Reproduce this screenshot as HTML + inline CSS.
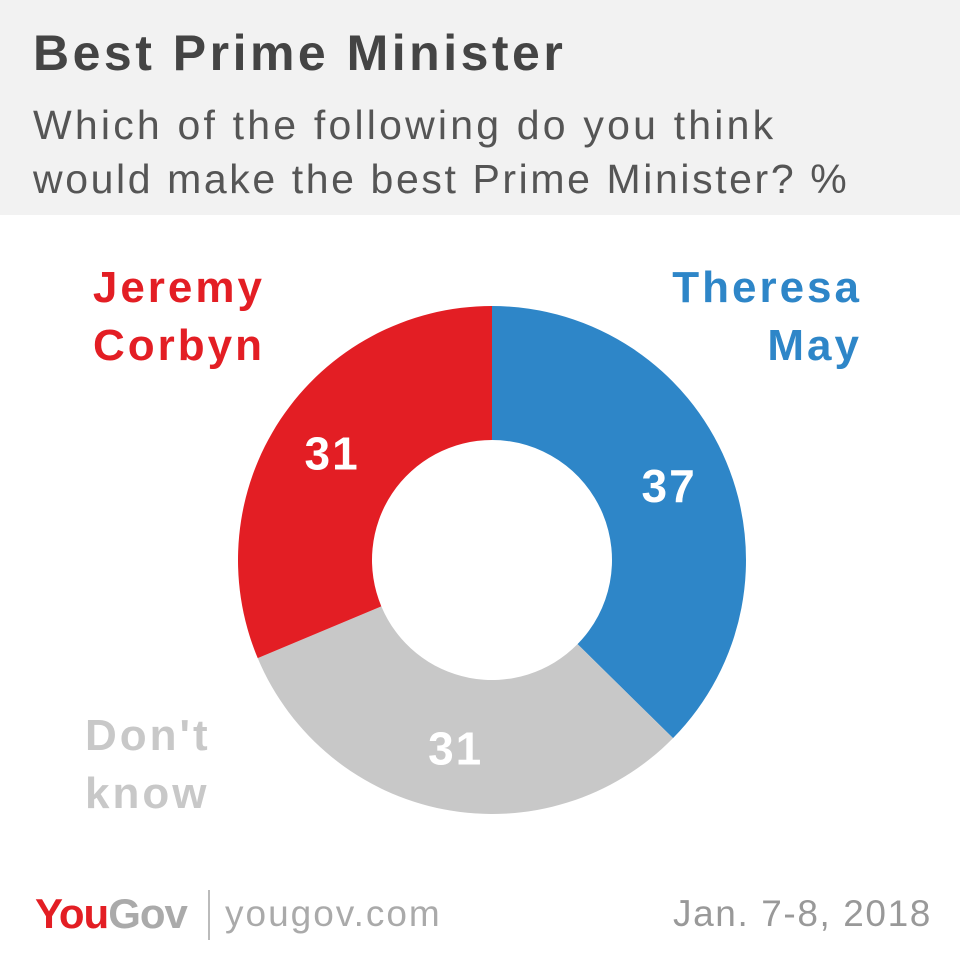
<!DOCTYPE html>
<html><head><meta charset="utf-8"><style>
body{margin:0;width:960px;height:960px;background:#fff;font-family:"Liberation Sans",sans-serif;overflow:hidden;position:relative}
.hdr{position:absolute;left:0;top:0;width:960px;height:215px;background:#f2f2f2}
.t{position:absolute;left:33px;top:24px;font-size:50px;font-weight:bold;color:#444;letter-spacing:3.5px}
.s{position:absolute;left:33px;top:98px;font-size:41px;line-height:54px;color:#555;letter-spacing:3.2px}
.f{position:absolute;font-size:37px;color:#999}
</style></head><body>
<div class="hdr"></div>
<div class="t">Best Prime Minister</div>
<div class="s">Which of the following do you think<br><span style="letter-spacing:2.6px">would make the best Prime Minister? %</span></div>
<svg id="c" width="960" height="960" style="position:absolute;left:0;top:0"></svg>
<div class="f" style="left:35px;top:890px;font-size:42px;font-weight:bold;letter-spacing:-1px"><span style="color:#e31e24">You</span><span style="color:#aaa">Gov</span></div>
<div style="position:absolute;left:208px;top:890px;width:2px;height:50px;background:#bbb"></div>
<div class="f" style="left:225px;top:893px;color:#aaa;letter-spacing:2px">yougov.com</div>
<div class="f" style="left:673px;top:893px;color:#999;letter-spacing:1.6px">Jan. 7-8, 2018</div>
<script>
const categories=["Theresa May","Don't know","Jeremy Corbyn"];
const values=[37,31,31];
const colors=["#2e86c8","#c8c8c8","#e31e24"];
const cx=492,cy=560,R=254,r=120;
const svg=document.getElementById('c');
const NS="http://www.w3.org/2000/svg";
const total=values.reduce((a,b)=>a+b,0);
function pt(a,rad){return [cx+rad*Math.sin(a),cy-rad*Math.cos(a)];}
let a0=0;
values.forEach((v,i)=>{
  const a1=a0+v/total*2*Math.PI;
  const lg=(a1-a0)>Math.PI?1:0;
  const [x0,y0]=pt(a0,R),[x1,y1]=pt(a1,R),[x2,y2]=pt(a1,r),[x3,y3]=pt(a0,r);
  const p=document.createElementNS(NS,'path');
  p.setAttribute('d',`M${x0},${y0}A${R},${R} 0 ${lg} 1 ${x1},${y1}L${x2},${y2}A${r},${r} 0 ${lg} 0 ${x3},${y3}Z`);
  p.setAttribute('fill',colors[i]);
  
  
  svg.appendChild(p);
  const m=(a0+a1)/2,[lx,ly]=pt(m,(R+r)/2+5);
  const t=document.createElementNS(NS,'text');
  t.setAttribute('x',lx);t.setAttribute('y',ly+16);
  t.setAttribute('text-anchor','middle');t.setAttribute('fill','#fff');
  t.setAttribute('font-size','46');t.setAttribute('font-weight','bold');
  t.setAttribute('letter-spacing','2');
  t.setAttribute('font-family','Liberation Sans, sans-serif');
  t.textContent=v;
  
  
  svg.appendChild(t);
  a0=a1;
});
const lbls=[[["Theresa","May"],862,302,"end"],[["Don't","know"],85,750,"start"],[["Jeremy","Corbyn"],265,302,"end"]];
lbls.forEach((l,i)=>{
  l[0].forEach((w,j)=>{
    const t=document.createElementNS(NS,'text');
    t.setAttribute('x',l[1]);t.setAttribute('y',l[2]+j*58);
    t.setAttribute('text-anchor',l[3]);t.setAttribute('fill',colors[i]);
    t.setAttribute('font-size','44');t.setAttribute('font-weight','bold');
    t.setAttribute('letter-spacing','3');
    t.setAttribute('font-family','Liberation Sans, sans-serif');
    t.textContent=w;
    
    
    svg.appendChild(t);
  });
});
</script>
</body></html>
